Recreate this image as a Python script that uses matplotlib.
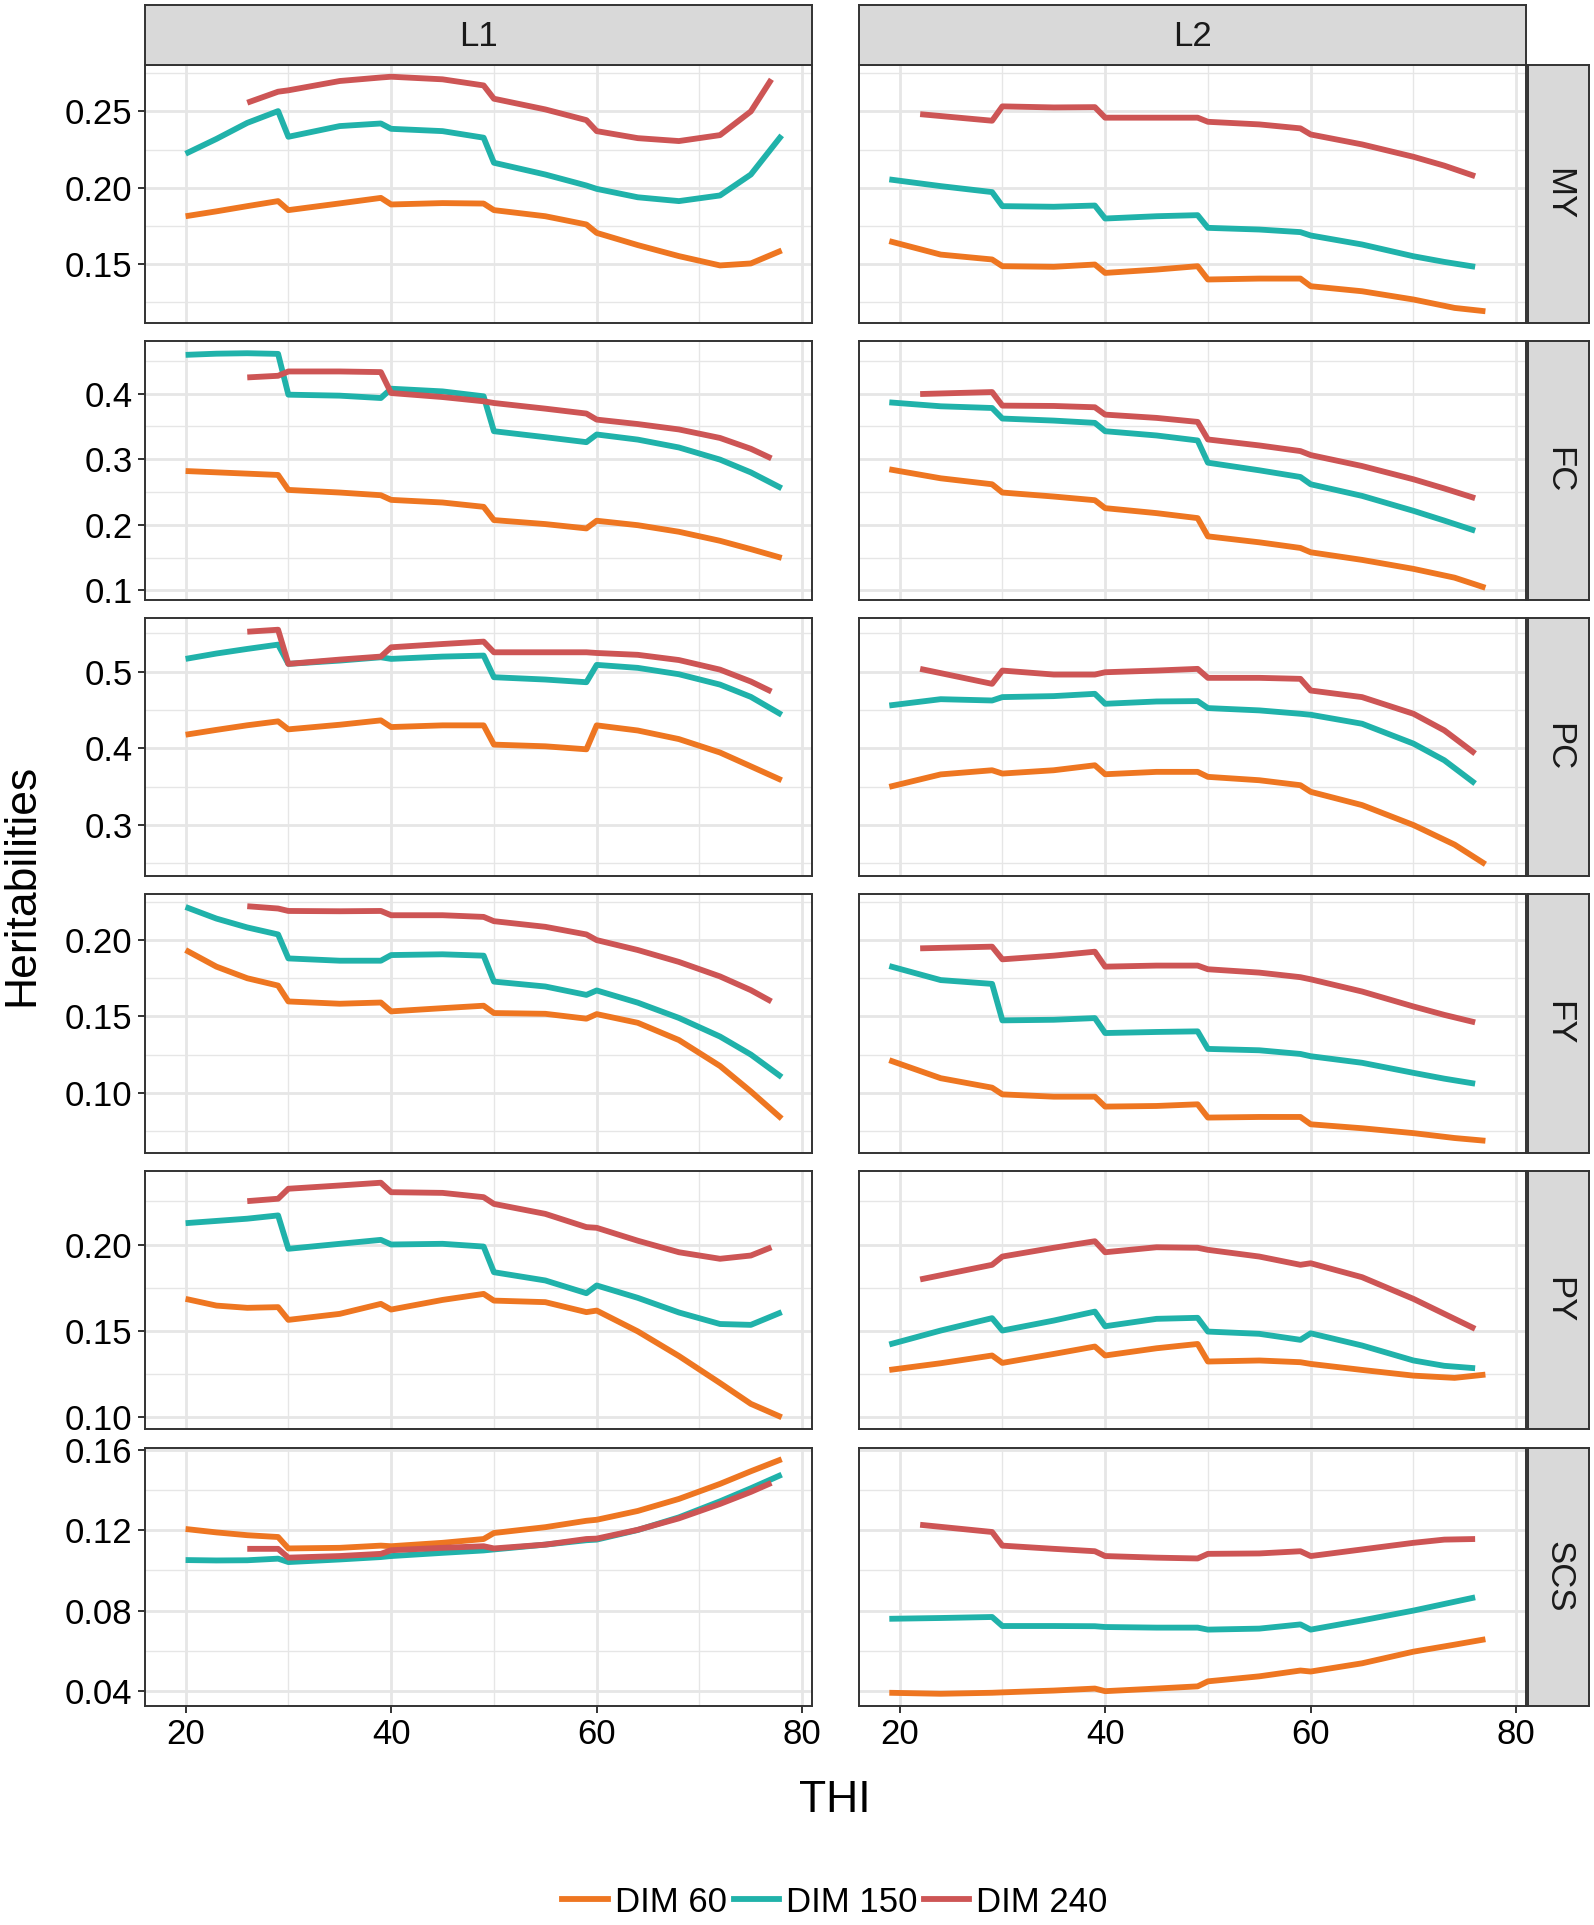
import matplotlib
matplotlib.use("agg")
import matplotlib.pyplot as plt
from matplotlib.ticker import FixedLocator, MultipleLocator
from matplotlib.lines import Line2D

plt.rcParams['font.family'] = ['Liberation Sans', 'DejaVu Sans']

TRAITS = ["MY", "FC", "PC", "FY", "PY", "SCS"]
LACTATIONS = ["L1", "L2"]
DIMS = ["DIM 60", "DIM 150", "DIM 240"]
COLORS = ["#EE7621", "#20B2AA", "#CD5555"]

# THI values of each curve (per lactation, per DIM)
L1_X = (
    [20, 23, 26, 29, 30, 35, 39, 40, 45, 49, 50, 55, 59, 60, 64, 68, 72, 75, 78],
    [20, 23, 26, 29, 30, 35, 39, 40, 45, 49, 50, 55, 59, 60, 64, 68, 72, 75, 78],
    [26, 29, 30, 35, 39, 40, 45, 49, 50, 55, 59, 60, 64, 68, 72, 75, 77],
)
L2_X = (
    [19, 24, 29, 30, 35, 39, 40, 45, 49, 50, 55, 59, 60, 65, 70, 74, 77],
    [19, 24, 29, 30, 35, 39, 40, 45, 49, 50, 55, 59, 60, 65, 70, 73, 76],
    [22, 29, 30, 35, 39, 40, 45, 49, 50, 55, 59, 60, 65, 70, 73, 76],
)

# heritabilities: (DIM 60, DIM 150, DIM 240)
MY_L1 = (
    [0.1814, 0.1846, 0.1880, 0.1913, 0.1854, 0.1898, 0.1934, 0.1891, 0.1900, 0.1897, 0.1854, 0.1814, 0.1760, 0.1705, 0.1625, 0.1553, 0.1492, 0.1505, 0.1590],
    [0.2223, 0.2320, 0.2425, 0.2502, 0.2334, 0.2404, 0.2421, 0.2386, 0.2371, 0.2328, 0.2164, 0.2087, 0.2015, 0.1993, 0.1938, 0.1913, 0.1950, 0.2087, 0.2343],
    [0.2557, 0.2629, 0.2638, 0.2699, 0.2722, 0.2727, 0.2710, 0.2670, 0.2583, 0.2513, 0.2443, 0.2371, 0.2325, 0.2306, 0.2345, 0.2500, 0.2710],
)
MY_L2 = (
    [0.1651, 0.1563, 0.1531, 0.1487, 0.1483, 0.1498, 0.1443, 0.1465, 0.1487, 0.1400, 0.1406, 0.1406, 0.1356, 0.1323, 0.1269, 0.1214, 0.1192],
    [0.2055, 0.2011, 0.1972, 0.1880, 0.1876, 0.1884, 0.1799, 0.1814, 0.1821, 0.1738, 0.1727, 0.1710, 0.1688, 0.1629, 0.1552, 0.1515, 0.1483],
    [0.2482, 0.2439, 0.2533, 0.2526, 0.2528, 0.2459, 0.2459, 0.2459, 0.2432, 0.2415, 0.2389, 0.2349, 0.2284, 0.2203, 0.2145, 0.2076],
)
FC_L1 = (
    [0.2821, 0.2801, 0.2781, 0.2761, 0.2533, 0.2493, 0.2452, 0.2381, 0.2341, 0.2275, 0.2073, 0.2012, 0.1946, 0.2063, 0.1995, 0.1895, 0.1757, 0.1630, 0.1496],
    [0.4592, 0.4610, 0.4617, 0.4607, 0.3985, 0.3970, 0.3934, 0.4076, 0.4035, 0.3960, 0.3428, 0.3337, 0.3261, 0.3378, 0.3300, 0.3180, 0.2995, 0.2800, 0.2558],
    [0.4248, 0.4273, 0.4339, 0.4339, 0.4329, 0.4010, 0.3949, 0.3884, 0.3858, 0.3772, 0.3697, 0.3605, 0.3537, 0.3455, 0.3325, 0.3160, 0.3014],
)
FC_L2 = (
    [0.2847, 0.2710, 0.2619, 0.2493, 0.2432, 0.2376, 0.2255, 0.2179, 0.2103, 0.1825, 0.1734, 0.1648, 0.1582, 0.1466, 0.1329, 0.1195, 0.1041],
    [0.3868, 0.3808, 0.3782, 0.3621, 0.3590, 0.3555, 0.3428, 0.3363, 0.3287, 0.2948, 0.2832, 0.2730, 0.2619, 0.2442, 0.2214, 0.2065, 0.1911],
    [0.3995, 0.4025, 0.3818, 0.3813, 0.3793, 0.3681, 0.3631, 0.3570, 0.3302, 0.3211, 0.3125, 0.3064, 0.2897, 0.2695, 0.2555, 0.2407],
)
PC_L1 = (
    [0.4177, 0.4240, 0.4300, 0.4351, 0.4247, 0.4307, 0.4364, 0.4277, 0.4299, 0.4299, 0.4048, 0.4026, 0.3987, 0.4299, 0.4232, 0.4120, 0.3945, 0.3765, 0.3584],
    [0.5165, 0.5235, 0.5295, 0.5351, 0.5100, 0.5143, 0.5186, 0.5165, 0.5195, 0.5208, 0.4926, 0.4896, 0.4861, 0.5087, 0.5048, 0.4965, 0.4830, 0.4670, 0.4437],
    [0.5519, 0.5545, 0.5100, 0.5156, 0.5195, 0.5316, 0.5359, 0.5390, 0.5251, 0.5251, 0.5251, 0.5242, 0.5218, 0.5150, 0.5025, 0.4870, 0.4740],
)
PC_L2 = (
    [0.3498, 0.3660, 0.3714, 0.3671, 0.3714, 0.3779, 0.3662, 0.3693, 0.3693, 0.3628, 0.3584, 0.3519, 0.3433, 0.3260, 0.3000, 0.2745, 0.2489],
    [0.4558, 0.4640, 0.4623, 0.4667, 0.4680, 0.4710, 0.4580, 0.4610, 0.4615, 0.4524, 0.4494, 0.4450, 0.4437, 0.4320, 0.4061, 0.3844, 0.3541],
    [0.5035, 0.4840, 0.5013, 0.4961, 0.4961, 0.4991, 0.5013, 0.5035, 0.4918, 0.4918, 0.4905, 0.4753, 0.4667, 0.4450, 0.4234, 0.3931],
)
FY_L1 = (
    [0.1935, 0.1826, 0.1750, 0.1702, 0.1598, 0.1583, 0.1591, 0.1533, 0.1554, 0.1570, 0.1522, 0.1517, 0.1485, 0.1515, 0.1458, 0.1345, 0.1175, 0.1008, 0.0830],
    [0.2217, 0.2141, 0.2083, 0.2037, 0.1880, 0.1865, 0.1865, 0.1902, 0.1907, 0.1898, 0.1728, 0.1696, 0.1641, 0.1670, 0.1590, 0.1490, 0.1368, 0.1250, 0.1102],
    [0.2222, 0.2207, 0.2191, 0.2189, 0.2191, 0.2163, 0.2163, 0.2152, 0.2124, 0.2087, 0.2037, 0.2000, 0.1935, 0.1857, 0.1762, 0.1672, 0.1598],
)
FY_L2 = (
    [0.1213, 0.1095, 0.1033, 0.0989, 0.0974, 0.0974, 0.0909, 0.0913, 0.0924, 0.0837, 0.0841, 0.0841, 0.0793, 0.0767, 0.0735, 0.0703, 0.0685],
    [0.1830, 0.1738, 0.1713, 0.1474, 0.1478, 0.1489, 0.1391, 0.1398, 0.1402, 0.1287, 0.1278, 0.1254, 0.1239, 0.1196, 0.1130, 0.1092, 0.1059],
    [0.1946, 0.1957, 0.1874, 0.1898, 0.1924, 0.1826, 0.1833, 0.1833, 0.1809, 0.1787, 0.1757, 0.1743, 0.1663, 0.1565, 0.1510, 0.1461],
)
PY_L1 = (
    [0.1684, 0.1645, 0.1632, 0.1636, 0.1562, 0.1597, 0.1655, 0.1622, 0.1678, 0.1713, 0.1674, 0.1665, 0.1607, 0.1616, 0.1495, 0.1352, 0.1195, 0.1074, 0.0996],
    [0.2124, 0.2137, 0.2150, 0.2169, 0.1975, 0.2004, 0.2027, 0.2000, 0.2004, 0.1988, 0.1839, 0.1791, 0.1717, 0.1762, 0.1690, 0.1605, 0.1538, 0.1533, 0.1607],
    [0.2252, 0.2266, 0.2324, 0.2343, 0.2359, 0.2304, 0.2300, 0.2275, 0.2236, 0.2178, 0.2101, 0.2097, 0.2022, 0.1955, 0.1917, 0.1936, 0.1984],
)
PY_L2 = (
    [0.1271, 0.1310, 0.1355, 0.1312, 0.1364, 0.1407, 0.1355, 0.1397, 0.1422, 0.1320, 0.1326, 0.1316, 0.1306, 0.1271, 0.1238, 0.1225, 0.1244],
    [0.1419, 0.1500, 0.1572, 0.1500, 0.1558, 0.1610, 0.1525, 0.1568, 0.1574, 0.1494, 0.1481, 0.1446, 0.1484, 0.1413, 0.1326, 0.1295, 0.1281],
    [0.1797, 0.1882, 0.1930, 0.1981, 0.2019, 0.1955, 0.1984, 0.1981, 0.1969, 0.1930, 0.1882, 0.1891, 0.1810, 0.1684, 0.1597, 0.1510],
)
SCS_L1 = (
    [0.1207, 0.1190, 0.1176, 0.1167, 0.1110, 0.1113, 0.1124, 0.1121, 0.1138, 0.1157, 0.1187, 0.1216, 0.1248, 0.1253, 0.1297, 0.1357, 0.1432, 0.1495, 0.1555],
    [0.1052, 0.1050, 0.1051, 0.1059, 0.1042, 0.1055, 0.1067, 0.1072, 0.1088, 0.1100, 0.1105, 0.1129, 0.1151, 0.1154, 0.1202, 0.1265, 0.1345, 0.1410, 0.1478],
    [0.1108, 0.1108, 0.1064, 0.1072, 0.1083, 0.1101, 0.1113, 0.1121, 0.1110, 0.1129, 0.1157, 0.1159, 0.1203, 0.1260, 0.1332, 0.1392, 0.1437],
)
SCS_L2 = (
    [0.0390, 0.0385, 0.0390, 0.0392, 0.0401, 0.0411, 0.0398, 0.0411, 0.0422, 0.0447, 0.0472, 0.0501, 0.0496, 0.0537, 0.0595, 0.0630, 0.0657],
    [0.0759, 0.0763, 0.0768, 0.0723, 0.0723, 0.0722, 0.0718, 0.0715, 0.0715, 0.0705, 0.0710, 0.0731, 0.0705, 0.0751, 0.0800, 0.0833, 0.0866],
    [0.1228, 0.1192, 0.1124, 0.1108, 0.1096, 0.1072, 0.1064, 0.1060, 0.1083, 0.1085, 0.1096, 0.1072, 0.1105, 0.1138, 0.1154, 0.1157],
)

PANELS = {
    "MY": (MY_L1, MY_L2), "FC": (FC_L1, FC_L2), "PC": (PC_L1, PC_L2),
    "FY": (FY_L1, FY_L2), "PY": (PY_L1, PY_L2), "SCS": (SCS_L1, SCS_L2),
}

Y_TICKS = {
    "MY": ["0.15", "0.20", "0.25"],
    "FC": ["0.1", "0.2", "0.3", "0.4"],
    "PC": ["0.3", "0.4", "0.5"],
    "FY": ["0.10", "0.15", "0.20"],
    "PY": ["0.10", "0.15", "0.20"],
    "SCS": ["0.04", "0.08", "0.12", "0.16"],
}
X_TICKS = [20, 40, 60, 80]

W, H = 1594, 1925
fig = plt.figure(figsize=(W / 100, H / 100), dpi=100)
fig.patch.set_facecolor("white")

col_left = [145, 859]
col_w = 667
row_top0 = 65
row_h = 258
row_gap = 18.5
strip_h = 60
rstrip_x, rstrip_w = 1528, 61
border = "#333333"
grid_c = "#E6E6E6"


def fx(px):
    return px / W


def fy(py):
    return 1 - py / H


def style_axis(ax):
    for s in ax.spines.values():
        s.set_color(border)
        s.set_linewidth(1.4)


ref_ax = None
for r, trait in enumerate(TRAITS):
    top = row_top0 + r * (row_h + row_gap)
    row_ax = None
    for c, lac in enumerate(LACTATIONS):
        ax = fig.add_axes([fx(col_left[c]), fy(top + row_h), col_w / W, row_h / H],
                          sharex=ref_ax, sharey=row_ax)
        if ref_ax is None:
            ref_ax = ax
        if row_ax is None:
            row_ax = ax
        xs = L1_X if c == 0 else L2_X
        ys = PANELS[trait][c]
        for k in range(3):
            ax.plot(xs[k], ys[k], color=COLORS[k], lw=4.2, solid_capstyle="butt",
                    solid_joinstyle="round", zorder=3)
        ax.set_facecolor("white")
        style_axis(ax)
        ax.grid(True, which="major", color=grid_c, lw=2.0, zorder=0)
        ax.grid(True, which="minor", color=grid_c, lw=1.0, zorder=0)
        ax.set_axisbelow(True)
        ax.xaxis.set_major_locator(FixedLocator(X_TICKS))
        ax.xaxis.set_minor_locator(MultipleLocator(10))
        ticks = [float(t) for t in Y_TICKS[trait]]
        ax.yaxis.set_major_locator(FixedLocator(ticks))
        ax.yaxis.set_minor_locator(MultipleLocator((ticks[1] - ticks[0]) / 2))
        ax.tick_params(which="major", direction="out", length=5, width=1.4,
                       color=border, labelsize=25, labelcolor="black", pad=4)
        ax.tick_params(which="minor", length=0)
        if c == 0:
            ax.set_yticklabels(Y_TICKS[trait])
        else:
            ax.tick_params(axis="y", which="both", left=False, labelleft=False)
        if r == len(TRAITS) - 1:
            ax.set_xticklabels([str(t) for t in X_TICKS])
        else:
            ax.tick_params(axis="x", which="both", bottom=False, labelbottom=False)

        # top strips
        if r == 0:
            sax = fig.add_axes([fx(col_left[c]), fy(top), col_w / W, strip_h / H])
            sax.set_facecolor("#D9D9D9")
            sax.set_xticks([])
            sax.set_yticks([])
            style_axis(sax)
            sax.text(0.5, 0.47, lac, ha="center", va="center", fontsize=25,
                     color="#1A1A1A", transform=sax.transAxes)
    # right strip
    rax = fig.add_axes([fx(rstrip_x), fy(top + row_h), rstrip_w / W, row_h / H])
    rax.set_facecolor("#D9D9D9")
    rax.set_xticks([])
    rax.set_yticks([])
    style_axis(rax)
    rax.text(0.5, 0.5, trait, ha="center", va="center", fontsize=25, rotation=-90,
             color="#1A1A1A", transform=rax.transAxes)

ref_ax.set_xlim(16.05, 80.95)

fig.text(fx(22), fy(885), "Heritabilities", rotation=90, ha="center", va="center",
         fontsize=32)
fig.text(fx(835), fy(1800), "THI", ha="center", va="center", fontsize=32)

handles = [Line2D([], [], color=COLORS[k], lw=4.2) for k in range(3)]
fig.legend(handles, DIMS, loc="center", bbox_to_anchor=(fx(835), fy(1902)), ncol=3,
           frameon=False, fontsize=25, handlelength=1.3, handletextpad=0.2,
           columnspacing=0.2, borderpad=0)

fig.savefig("out.png", dpi=100, facecolor="white")
